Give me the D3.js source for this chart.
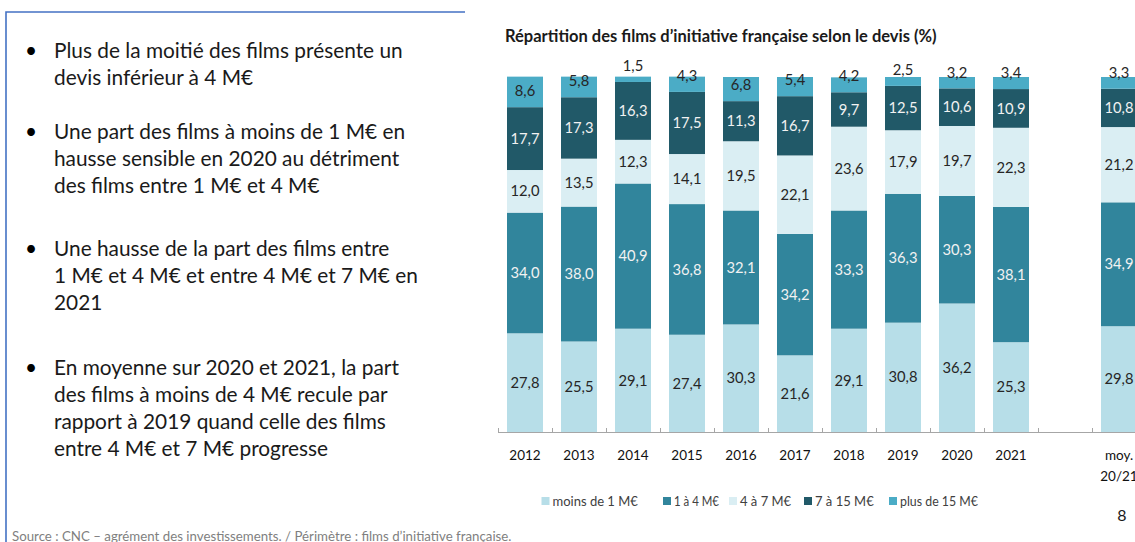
<!DOCTYPE html>
<html><head><meta charset="utf-8">
<script src="https://cdn.jsdelivr.net/npm/d3@7"></script>
<style>body{margin:0;background:#fff;overflow:hidden} svg{display:block}</style>
</head><body>
<svg id="c" width="1135" height="542"></svg>
<script>
// ---- data ----
const categories = ["2012","2013","2014","2015","2016","2017","2018","2019","2020","2021","gap","moy"];
const tickLabels = [["2012"],["2013"],["2014"],["2015"],["2016"],["2017"],["2018"],["2019"],["2020"],["2021"],[""],["moy.","20/21"]];
const seriesNames = ["moins de 1 M€","1 à 4 M€","4 à 7 M€","7 à 15 M€","plus de 15 M€"];
const moins1M  = [27.8,25.5,29.1,27.4,30.3,21.6,29.1,30.8,36.2,25.3,null,29.8];
const de1a4M   = [34.0,38.0,40.9,36.8,32.1,34.2,33.3,36.3,30.3,38.1,null,34.9];
const de4a7M   = [12.0,13.5,12.3,14.1,19.5,22.1,23.6,17.9,19.7,22.3,null,21.2];
const de7a15M  = [17.7,17.3,16.3,17.5,11.3,16.7, 9.7,12.5,10.6,10.9,null,10.8];
const plus15M  = [ 8.6, 5.8, 1.5, 4.3, 6.8, 5.4, 4.2, 2.5, 3.2, 3.4,null, 3.3];
const title = "Répartition des films d’initiative française selon le devis (%)";
const bullets = [
  ["Plus de la moitié des films présente un","devis inférieur à 4 M€"],
  ["Une part des films à moins de 1 M€ en","hausse sensible en 2020 au détriment","des films entre 1 M€ et 4 M€"],
  ["Une hausse de la part des films entre","1 M€ et 4 M€ et entre 4 M€ et 7 M€ en","2021"],
  ["En moyenne sur 2020 et 2021, la part","des films à moins de 4 M€ recule par","rapport à 2019 quand celle des films","entre 4 M€ et 7 M€ progresse"]
];
const sourceText = "Source : CNC – agrément des investissements. / Périmètre : films d’initiative française.";
const pageNumber = "8";

// ---- styles ----
const colors = ["#b7dee8","#31859c","#daeef3","#215968","#4bacc6"];
const labelColors = ["#262626","#f2f2f2","#262626","#f2f2f2","#262626"];
const FONT = "Lato, 'Open Sans', sans-serif";

const svg = d3.select("#c");
svg.append("rect").attr("width",1135).attr("height",542).attr("fill","#fff");

function fitSize(text, weight, targetW){
  const t = svg.append("text").attr("font-family",FONT).attr("font-weight",weight)
    .attr("font-size",100).text(text);
  const w = t.node().getComputedTextLength(); t.remove();
  return 100*targetW/w;
}

// frame
svg.append("path").attr("d","M6,542 V12 H465").attr("fill","none")
  .attr("stroke","#4472c4").attr("stroke-width",1.6);

// left bullets
const bodySize = fitSize(bullets[0][0], 400, 349);
const bulletTops = [51, 131.5, 249, 368];
const lineH = 27;
bullets.forEach((lines,i)=>{
  svg.append("text").attr("x",31).attr("y",bulletTops[i]).attr("dy","0.35em")
    .attr("text-anchor","middle").attr("font-family",FONT).attr("font-size",bodySize)
    .attr("fill","#000").text("•");
  lines.forEach((l,j)=>{
    svg.append("text").attr("x",54).attr("y",bulletTops[i]+j*lineH).attr("dy","0.35em")
      .attr("font-family",FONT).attr("font-size",bodySize).attr("fill","#1a1a1a").text(l);
  });
});

// source
svg.append("text").attr("x",12).attr("y",536).attr("dy","0.35em")
  .attr("font-family",FONT).attr("font-size",fitSize(sourceText,400,500))
  .attr("fill","#7f7f7f").text(sourceText);

// title
svg.append("text").attr("x",505).attr("y",36).attr("dy","0.35em")
  .attr("font-family",FONT).attr("font-weight",700).attr("font-size",fitSize(title,700,432))
  .attr("fill","#1a1a1a").text(title);

// scales
const x = d3.scaleBand().domain(categories).range([498,1146]).paddingInner(1/3).paddingOuter(1/6);
const y = d3.scaleLinear().domain([0,100]).range([432,77]);

const seriesArrays = [moins1M,de1a4M,de4a7M,de7a15M,plus15M];
const rows = categories.map((c,i)=>{
  const r = {cat:c};
  seriesNames.forEach((s,k)=>{ r[s] = seriesArrays[k][i] || 0; });
  r.valid = seriesArrays[0][i] !== null;
  return r;
}).filter(r=>r.valid);
const stacked = d3.stack().keys(seriesNames)(rows);

const gBars = svg.append("g");
stacked.forEach((layer,k)=>{
  gBars.selectAll(null).data(layer).join("rect")
    .attr("x",d=>x(d.data.cat)).attr("width",x.bandwidth())
    .attr("y",d=>y(d[1])).attr("height",d=>y(d[0])-y(d[1]))
    .attr("fill",colors[k]);
});

// axis line and ticks
const step = x.step(), gapHalf = step*x.paddingInner()/2;
svg.append("line").attr("x1",498).attr("x2",1146).attr("y1",432.5).attr("y2",432.5)
  .attr("stroke","#a6a6a6").attr("stroke-width",1);
const tickXs = categories.map(c=>x(c)-gapHalf).concat([x(categories[categories.length-1])+x.bandwidth()+gapHalf]);
svg.selectAll(null).data(tickXs).join("line")
  .attr("x1",d=>Math.round(d)+0.5).attr("x2",d=>Math.round(d)+0.5)
  .attr("y1",428).attr("y2",433).attr("stroke","#a6a6a6");

// labels
const fmt = v=>d3.format(".1f")(v).replace(".",",");
const labSize = fitSize("27,8",400,29);
stacked.forEach((layer,k)=>{
  svg.selectAll(null).data(layer).join("text")
    .attr("x",d=>x(d.data.cat)+x.bandwidth()/2)
    .attr("y",d=>{
      const c = (y(d[0])+y(d[1]))/2;
      return k===stacked.length-1 ? Math.min(c, y(d[0])-16) : c;
    })
    .attr("dy","0.35em").attr("text-anchor","middle")
    .attr("font-family",FONT).attr("font-size",labSize)
    .attr("fill",labelColors[k]).text(d=>fmt(d.data[seriesNames[k]]));
});

// x tick labels
categories.forEach((c,i)=>{
  tickLabels[i].forEach((t,j)=>{
    svg.append("text").attr("x",x(c)+x.bandwidth()/2).attr("y",455+j*21).attr("dy","0.35em")
      .attr("text-anchor","middle").attr("font-family",FONT).attr("font-size",13.5)
      .attr("fill","#111").text(t);
  });
});

// legend
const legX = [541.5, 663, 729, 804, 889];
const legSize = 13;
seriesNames.forEach((s,k)=>{
  svg.append("rect").attr("x",legX[k]).attr("y",497).attr("width",8).attr("height",8).attr("fill",colors[k]);
  const t = svg.append("text").attr("x",legX[k]+11).attr("y",501).attr("dy","0.35em")
    .attr("font-family",FONT).attr("font-size",legSize).attr("fill","#404040").text(s);
  const target = k<4 ? legX[k+1]-legX[k]-11-10 : 78;
  if (t.node().getComputedTextLength() > target) t.attr("textLength",target).attr("lengthAdjust","spacingAndGlyphs");
});

// page number
svg.append("text").attr("x",1122).attr("y",515).attr("dy","0.35em").attr("text-anchor","middle")
  .attr("font-family",FONT).attr("font-size",16).attr("fill","#1a1a1a").text(pageNumber);
</script>
</body></html>
